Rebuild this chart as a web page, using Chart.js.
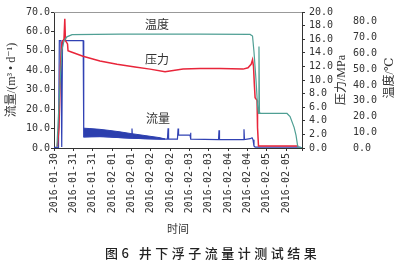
<!DOCTYPE html>
<html>
<head>
<meta charset="utf-8">
<script src="https://cdn.jsdelivr.net/npm/chart.js@4"></script>
<style>
  html, body { margin: 0; padding: 0; background: #fff; }
  #wrap { position: relative; width: 398px; height: 269px; }
  #fig { position: absolute; left: 0; top: 0; width: 398px; height: 269px; }
  #caption {
    position: absolute; left: 105px; top: 245px;
    font: 500 13px/16px "Noto Sans CJK SC", sans-serif;
    letter-spacing: 3.5px; color: #222; white-space: pre;
  }
</style>
</head>
<body>
<div id="wrap">
  <canvas id="fig" width="398" height="269"></canvas>
  <div id="caption">图6 井下浮子流量计测试结果</div>
</div>
<script>
// x values are hours counted from 2016-01-30 00:00, one tick every 12 h
const tickLabels = [
  '2016-01-30', '2016-01-31', '2016-01-31', '2016-02-01', '2016-02-01',
  '2016-02-02', '2016-02-02', '2016-02-03', '2016-02-03', '2016-02-04',
  '2016-02-04', '2016-02-05', '2016-02-05',
];

// flow, m3/d (left axis)
const flowHours = [11.4, 14.2, 14.7, 15.7, 16.2, 16.7, 29.5, 29.7, 30.0, 39.9, 49.3, 58.6, 59.5, 59.8, 60.1, 67.9, 77.2, 81.8, 82.2, 82.5, 88.0, 88.4, 88.7, 95.8, 96.1, 96.4, 113.5, 113.8, 114.1, 128.9, 129.3, 129.6, 133.1, 134.3, 134.9, 135.5, 136.2, 164.1, 164.7];
const flowValues = [0.3, 0.3, 55.3, 55.3, 0.5, 55.3, 55.3, 10.0, 5.8, 6.1, 5.6, 5.1, 5.1, 10.0, 5.1, 4.8, 4.6, 4.6, 10.2, 4.6, 4.6, 10.0, 6.6, 6.6, 7.8, 4.6, 4.3, 9.1, 4.3, 4.3, 9.6, 4.3, 4.8, 5.3, 4.3, 1.0, 0.5, 0.5, 0];

// the noisy part of the flow record, drawn as a band
const bandHours = [29.7, 33.7, 39.9, 46.1, 52.4, 58.6, 67.9, 77.2, 80.3];
const bandLow = [5.6, 5.7, 5.8, 5.6, 5.3, 5.1, 4.8, 4.6, 4.6];
const bandHigh = [10.2, 10.0, 9.6, 9.0, 8.3, 7.5, 6.4, 5.3, 4.6];

// pressure, MPa
const pressureHours = [13.5, 14.5, 15.4, 16.3, 17.6, 18.1, 18.5, 19.8, 20.1, 21.3, 29.4, 39.9, 50.5, 61.7, 71.0, 80.3, 91.5, 102.0, 114.4, 128.7, 131.8, 133.7, 134.6, 135.2, 135.8, 136.2, 137.4, 137.7, 138.3, 163.0];
const pressureValues = [0.2, 3.0, 12.0, 15.5, 16.0, 19.0, 15.8, 15.3, 14.3, 14.2, 13.5, 12.8, 12.3, 11.9, 11.6, 11.2, 11.6, 11.7, 11.7, 11.6, 11.8, 12.3, 13.0, 12.0, 9.0, 7.4, 7.0, 3.0, 0.3, 0.3];

// temperature, deg C
const tempHours = [13.2, 15.1, 16.3, 17.6, 19.4, 22.6, 52.4, 102.0, 133.1, 134.6, 135.5, 136.8, 137.7, 138.3, 138.6, 138.9, 139.3, 156.0, 157.9, 160.4, 161.6, 162.5, 162.9, 165.3];
const tempValues = [0.5, 40, 62, 68, 70.5, 71.9, 72.2, 72.2, 72.0, 71.0, 61, 42.5, 27, 21.9, 64.4, 23, 21.9, 21.9, 20.0, 13.1, 8.0, 2.0, 0.3, 0.3];

const mono = '"DejaVu Sans Mono", monospace';
const cjk = '"Noto Sans CJK SC", sans-serif';
const titleFont = '"Liberation Serif", "DejaVu Serif", "Noto Sans CJK SC", serif';
const ink = '#333';

function pairs(xs, ys) {
  return xs.map((x, i) => ({ x, y: ys[i] }));
}

function fixWidth(w) {
  return (scale) => { scale.width = w; };
}

// frame line along the top of the plot
const topFrame = {
  id: 'topFrame',
  beforeDatasetsDraw(chart) {
    const { ctx, chartArea } = chart;
    ctx.save();
    ctx.strokeStyle = '#999';
    ctx.lineWidth = 1;
    ctx.beginPath();
    ctx.moveTo(chartArea.left, chartArea.top + 0.5);
    ctx.lineTo(chartArea.right, chartArea.top + 0.5);
    ctx.stroke();
    ctx.restore();
  },
};

// right-hand axis titles read bottom to top, and the series names sit in the plot
const labels = {
  id: 'labels',
  afterDraw(chart) {
    const { ctx, chartArea, scales } = chart;
    const mid = (chartArea.top + chartArea.bottom) / 2;
    ctx.save();
    ctx.fillStyle = ink;
    ctx.textAlign = 'center';
    ctx.textBaseline = 'middle';
    ctx.font = '12px ' + titleFont;
    [[scales.y1, '压力/MPa', 40, mid], [scales.y2, '温度/℃', 43, mid - 2]].forEach(([s, text, dx, y]) => {
      ctx.save();
      ctx.translate(s.left + dx, y);
      ctx.rotate(-Math.PI / 2);
      ctx.fillText(text, 0, 0);
      ctx.restore();
    });
    ctx.font = '12px ' + cjk;
    const x = scales.x;
    ctx.fillText('温度', x.getPixelForValue(75.3), scales.y2.getPixelForValue(78.1));
    ctx.fillText('压力', x.getPixelForValue(75.3), scales.y1.getPixelForValue(13.0));
    ctx.fillText('流量', x.getPixelForValue(75.9), scales.y.getPixelForValue(15.2));
    ctx.restore();
  },
};

const line = (color, width) => ({
  borderColor: color,
  borderWidth: width,
  pointRadius: 0,
  tension: 0,
  fill: false,
});

new Chart(document.getElementById('fig'), {
  type: 'line',
  data: {
    datasets: [
      { label: '温度', data: pairs(tempHours, tempValues), yAxisID: 'y2', order: 1, ...line('#4f9f94', 1.2) },
      { label: '压力', data: pairs(pressureHours, pressureValues), yAxisID: 'y1', order: 2, ...line('#e8253a', 1.5) },
      { label: '流量', data: pairs(flowHours, flowValues), yAxisID: 'y', order: 3, ...line('#3142b4', 1.2) },
      { label: 'band-low', data: pairs(bandHours, bandLow), yAxisID: 'y', order: 4, ...line('#2c3fae', 1) },
      {
        label: 'band-high', data: pairs(bandHours, bandHigh), yAxisID: 'y', order: 4,
        ...line('#2c3fae', 1), fill: 3, backgroundColor: '#2c3fae',
      },
    ],
  },
  options: {
    responsive: false,
    animation: false,
    layout: { padding: { top: 10, left: 0, right: 0, bottom: 0 } },
    plugins: { legend: { display: false }, tooltip: { enabled: false } },
    scales: {
      x: {
        type: 'linear',
        position: 'bottom',
        min: 11.4,
        max: 165.3,
        bounds: 'data',
        afterFit: (s) => { s.height = 121; },
        border: { color: ink },
        grid: { drawOnChartArea: false, tickLength: 3, color: ink },
        ticks: {
          stepSize: 12,
          includeBounds: false,
          autoSkip: false,
          maxRotation: 90,
          minRotation: 90,
          padding: 2,
          color: ink,
          font: { family: mono, size: 10 },
          callback: (v) => tickLabels[Math.round((v - 12) / 12)] ?? '',
        },
        title: {
          display: true, text: '时间', color: ink,
          font: { family: cjk, size: 11 }, padding: { top: 0, bottom: 34 },
        },
      },
      y: {
        position: 'left',
        min: 0,
        max: 70,
        afterFit: fixWidth(54),
        border: { color: ink },
        grid: { drawOnChartArea: false, tickLength: 3, color: ink },
        ticks: {
          stepSize: 10, padding: 1, color: ink, autoSkip: false,
          font: { family: mono, size: 10 },
          callback: (v) => v.toFixed(1),
        },
        title: {
          display: true, text: '流量/(m³ • d⁻¹)', color: ink,
          font: { family: titleFont, size: 12 }, padding: { top: 5, bottom: 0 },
        },
      },
      y1: {
        position: 'right',
        min: 0,
        max: 20,
        afterFit: fixWidth(45),
        border: { color: ink },
        grid: { drawOnChartArea: false, tickLength: 3, color: ink },
        ticks: {
          stepSize: 2, padding: 4, color: ink, autoSkip: false,
          font: { family: mono, size: 10 },
          callback: (v) => v.toFixed(1),
        },
      },
      y2: {
        position: 'right',
        min: 0,
        max: 86.25,
        bounds: 'data',
        afterFit: fixWidth(51),
        border: { display: false },
        grid: { display: false, drawTicks: false, tickLength: 0 },
        ticks: {
          stepSize: 10, includeBounds: false, padding: 6, color: ink, autoSkip: false,
          font: { family: mono, size: 10 },
          callback: (v) => v.toFixed(1),
        },
      },
    },
  },
  plugins: [topFrame, labels],
});
</script>
</body>
</html>
